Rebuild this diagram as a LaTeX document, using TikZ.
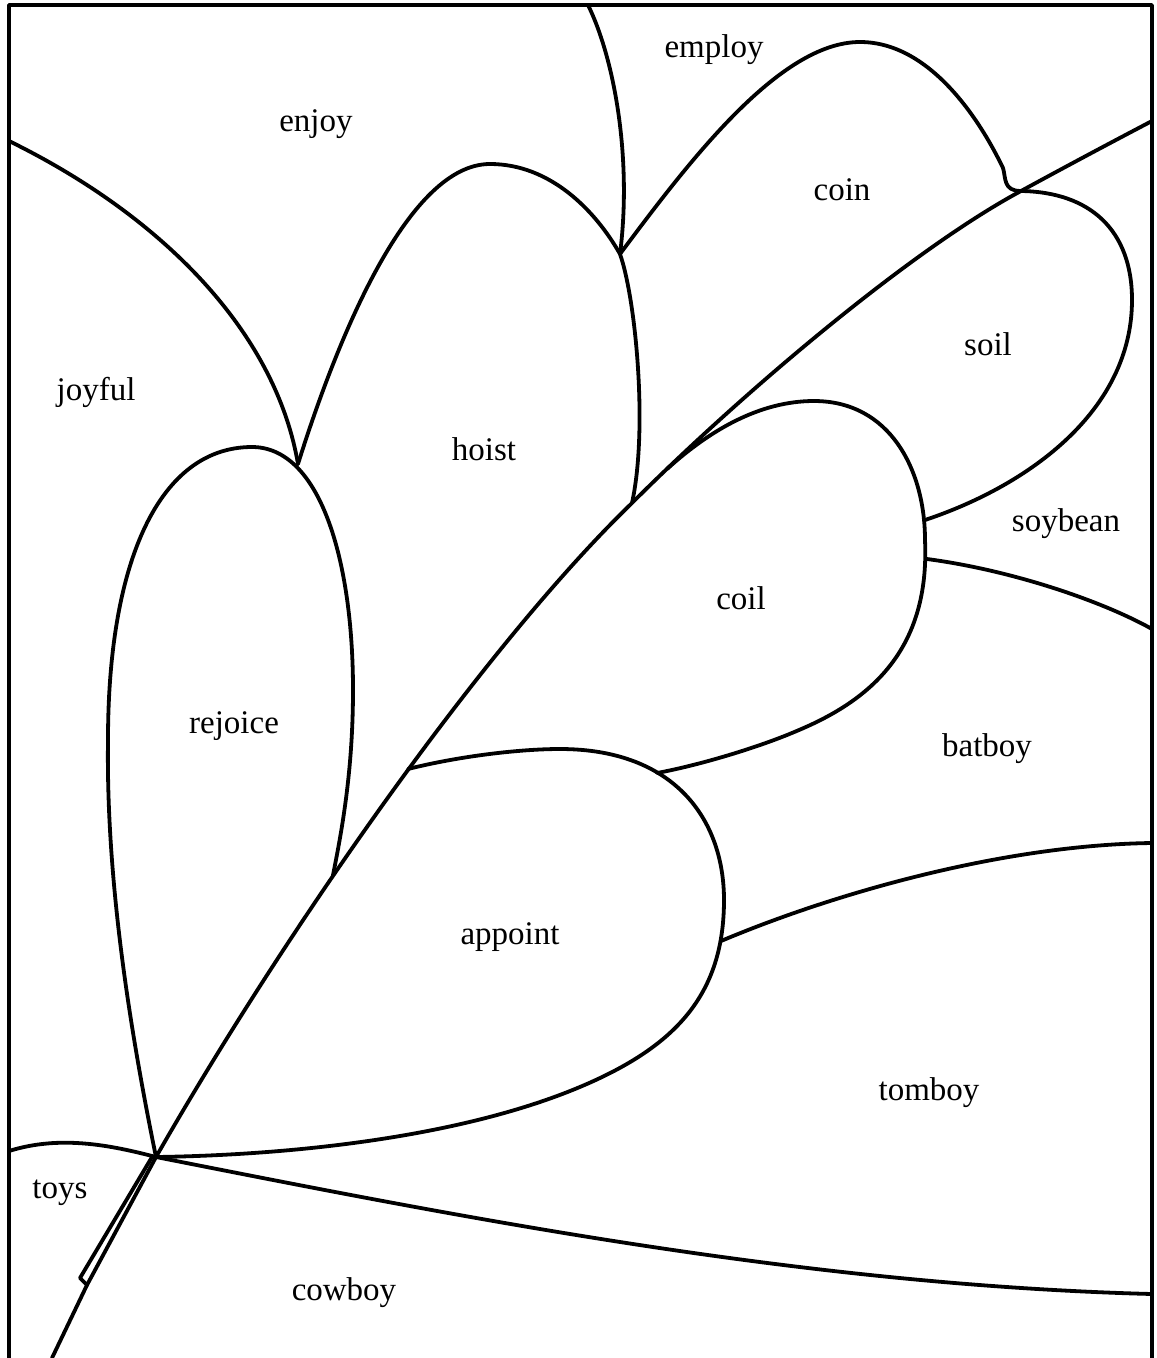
\documentclass[tikz,border=0pt]{standalone}
\usepackage{fontspec}
\setmainfont{Liberation Serif}
\tikzset{
  lbl/.style={font=\fontsize{33}{40}\selectfont, inner sep=0pt},
  edge/.style={line width=3.8pt, line join=round, line cap=round}
}
\begin{document}
\begin{tikzpicture}[x=1pt,y=-1pt]
\useasboundingbox (0,0) rectangle (1157,1358);
\coordinate (hub) at (156,1157);
\coordinate (rjtop) at (298,464);
\coordinate (rjstem) at (333,875);
\coordinate (apstem) at (408,769);
\coordinate (hostem) at (632,503);
\coordinate (emp) at (620,254);
\coordinate (costem) at (667,469);
\coordinate (soj) at (1021,191);
\coordinate (sojoin) at (925,520);
\coordinate (bbjoin) at (927,559);
\coordinate (cajoin) at (657,773);
\coordinate (tbjoin) at (721,941);
% frame
\draw[edge] (9,1358) -- (9,5) -- (1152,5) -- (1152,1358);
% stem
\draw[edge] (hub) .. controls (280,940) and (480,650) .. (hostem)
  .. controls (742,393) and (911,250) .. (soj)
  .. controls (1065,167) and (1110,143) .. (1152,121);
\draw[edge] (hub) -- (87,1285) -- (52,1358);
\draw[edge] (152,1157) -- (80,1278) -- (87,1285);
% rejoice
\draw[edge] (hub) .. controls (130,1030) and (106,880) .. (108,740)
  .. controls (108,560) and (160,447) .. (252,447)
  .. controls (320,447) and (353,560) .. (353,690)
  .. controls (353,770) and (342,830) .. (rjstem);
\draw[edge] (9,141) .. controls (160,215) and (275,330) .. (rjtop);
% hoist
\draw[edge] (rjtop) .. controls (340,330) and (410,164) .. (490,164)
  .. controls (550,164) and (595,210) .. (emp)
  .. controls (636,300) and (648,430) .. (hostem);
\draw[edge] (588,5) .. controls (615,60) and (632,160) .. (emp);
% coin
\draw[edge] (emp) .. controls (690,160) and (780,42) .. (860,42)
  .. controls (930,42) and (980,120) .. (1003,168)
  .. controls (1006,178) and (1003,191) .. (soj);
% soil
\draw[edge] (soj) .. controls (1090,192) and (1132,230) .. (1132,300)
  .. controls (1132,410) and (1030,485) .. (sojoin);
% coil
\draw[edge] (costem) .. controls (710,430) and (760,401) .. (814,401)
  .. controls (890,401) and (925,470) .. (925,540)
  .. controls (930,650) and (870,700) .. (799,730)
  .. controls (760,747) and (700,765) .. (cajoin);
\draw[edge] (bbjoin) .. controls (1010,570) and (1100,600) .. (1152,629);
% appoint
\draw[edge] (apstem) .. controls (460,756) and (520,749) .. (560,749)
  .. controls (675,749) and (724,820) .. (724,900)
  .. controls (724,990) and (680,1040) .. (600,1078)
  .. controls (480,1135) and (300,1155) .. (hub);
\draw[edge] (tbjoin) .. controls (830,895) and (1000,845) .. (1152,843);
% bottom
\draw[edge] (hub) .. controls (450,1215) and (800,1285) .. (1152,1294);
\draw[edge] (9,1151) .. controls (60,1135) and (110,1145) .. (hub);
% labels
\node[lbl] (enjoy) at (316,124) {enjoy};
\node[lbl] (employ) at (714,50) {employ};
\node[lbl] (coin) at (842,190) {coin};
\node[lbl] (soil) at (988,344) {soil};
\node[lbl] (joyful) at (96,392) {joyful};
\node[lbl] (hoist) at (484,449) {hoist};
\node[lbl] (soybean) at (1066,524) {soybean};
\node[lbl] (coil) at (741,598) {coil};
\node[lbl] (rejoice) at (234,726) {rejoice};
\node[lbl] (batboy) at (987,749) {batboy};
\node[lbl] (appoint) at (510,937) {appoint};
\node[lbl] (tomboy) at (929,1093) {tomboy};
\node[lbl] (toys) at (60,1193) {toys};
\node[lbl] (cowboy) at (344,1293) {cowboy};
\end{tikzpicture}
\end{document}
